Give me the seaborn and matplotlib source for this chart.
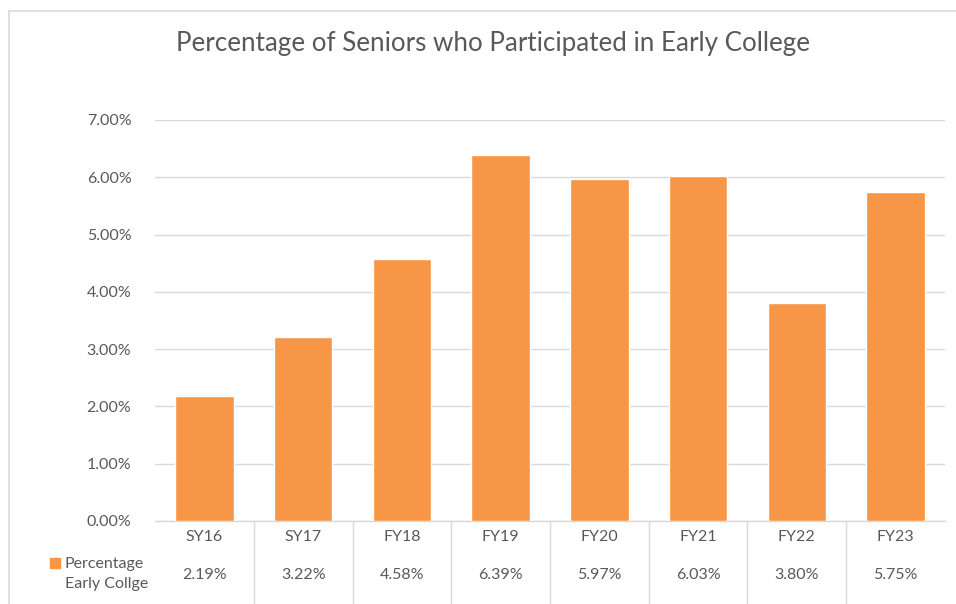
import matplotlib
matplotlib.use("Agg")
import matplotlib.pyplot as plt
import matplotlib.transforms as mtransforms
from matplotlib.lines import Line2D
from matplotlib.patches import Rectangle
from matplotlib.ticker import FuncFormatter
import pandas as pd
import seaborn as sns

years = ["SY16", "SY17", "FY18", "FY19", "FY20", "FY21", "FY22", "FY23"]
pct = [0.0219, 0.0322, 0.0458, 0.0639, 0.0597, 0.0603, 0.0380, 0.0575]
series_name = "Percentage\nEarly Collge"
title = "Percentage of Seniors who Participated in Early College"

orange = "#F79646"
grey_text = "#595959"
grid_col = "#D9D9D9"
small = 11.5

sns.set_style("white")
plt.rcParams["font.family"] = ["Lato", "DejaVu Sans"]

df = pd.DataFrame({"year": years, "pct": pct})

fig = plt.figure(figsize=(9.56, 6.04), dpi=100)
ax = fig.add_axes([155 / 956, 1 - 521 / 604, (945 - 155) / 956, (521 - 120) / 604])

sns.barplot(data=df, x="year", y="pct", color=orange, width=0.59,
            saturation=1, ax=ax, zorder=3)

ax.set_ylim(0, 0.07)
ax.set_xlim(-0.5, len(years) - 0.5)
ax.set_yticks([i / 100 for i in range(8)])
ax.yaxis.set_major_formatter(FuncFormatter(lambda v, p: f"{v * 100:.2f}%"))
ax.tick_params(axis="y", length=0, pad=17, labelsize=small, labelcolor=grey_text)
ax.set_xticks([])
ax.set_xlabel("")
ax.set_ylabel("")
ax.grid(axis="y", color=grid_col, linewidth=1, zorder=0)
for s in ["top", "right", "left"]:
    ax.spines[s].set_visible(False)
ax.spines["bottom"].set_color(grid_col)
ax.spines["bottom"].set_linewidth(1)

# data table under the chart
trans = mtransforms.blended_transform_factory(ax.transData, ax.transAxes)
for i, (yr, v) in enumerate(zip(years, pct)):
    ax.text(i, -0.040, yr, transform=trans, ha="center", va="center",
            fontsize=small, color=grey_text, clip_on=False)
    ax.text(i, -0.1347, f"{v * 100:.2f}%", transform=trans, ha="center",
            va="center", fontsize=small, color=grey_text, clip_on=False)
for b in range(1, len(years)):
    ax.add_line(Line2D([b - 0.5, b - 0.5], [0, -0.21], transform=trans,
                       color=grid_col, linewidth=1, clip_on=False))

# legend key in the table
fig.add_artist(Rectangle((50 / 956, 1 - 568 / 604), 10 / 956, 10 / 604,
                         transform=fig.transFigure, color=orange))
fig.text(65 / 956, 1 - 574 / 604, series_name, fontsize=small, color=grey_text,
         ha="left", va="center", linespacing=1.6)

# chart border
fig.add_artist(Line2D([9 / 956, 1], [1 - 11 / 604, 1 - 11 / 604],
                      transform=fig.transFigure, color=grid_col, linewidth=1.2))
fig.add_artist(Line2D([9 / 956, 9 / 956], [0, 1 - 11 / 604],
                      transform=fig.transFigure, color=grid_col, linewidth=1.2))

fig.text(493 / 956, 1 - 44 / 604, title, fontsize=18.7, color=grey_text,
         ha="center", va="center")

fig.savefig("out.png", dpi=100)
